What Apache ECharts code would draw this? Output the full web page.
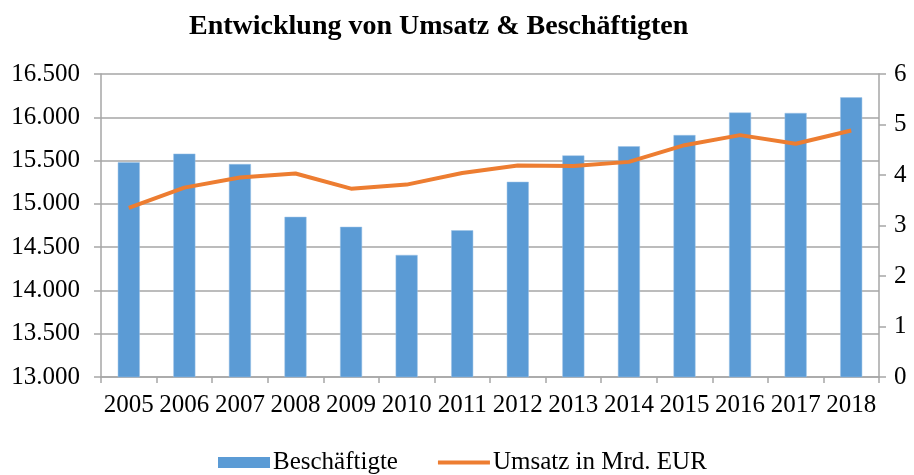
<!DOCTYPE html>
<html>
<head>
<meta charset="utf-8">
<script src="https://cdn.jsdelivr.net/npm/echarts@6/dist/echarts.min.js"></script>
<style>html,body{margin:0;padding:0;background:#fff;}#c{width:914px;height:475px;}</style>
</head>
<body>
<div id="c"></div>
<script>
const years = ['2005','2006','2007','2008','2009','2010','2011','2012','2013','2014','2015','2016','2017','2018'];
const beschaeftigte = [15480, 15580, 15460, 14850, 14735, 14410, 14695, 15255, 15560, 15665, 15795, 16055, 16050, 16230];
const umsatz = [3.35, 3.75, 3.95, 4.03, 3.73, 3.81, 4.04, 4.19, 4.18, 4.26, 4.59, 4.79, 4.62, 4.88];
const leftTicks = {min: 13000, max: 16500, interval: 500};
const rightTicks = {min: 0, max: 6, interval: 1};

const FONT = '"Liberation Serif", "Times New Roman", serif';
const GRAY = '#a6a6a6';
function de(v){ return String(v).replace(/\B(?=(\d{3})+(?!\d))/g, '.'); }

const chart = echarts.init(document.getElementById('c'), null, {renderer: 'canvas'});
chart.setOption({
  animation: false,
  title: {
    text: 'Entwicklung von Umsatz & Beschäftigten',
    left: 184, top: 8,
    textStyle: {fontFamily: FONT, fontWeight: 'bold', fontSize: 28, color: '#000'}
  },
  legend: {
    left: 213, top: 445,
    itemWidth: 52, itemHeight: 11, itemGap: 38,
    textStyle: {fontFamily: FONT, fontSize: 25, color: '#000', padding: [0,0,0,-2]},
    data: [
      {name: 'Beschäftigte', icon: 'rect', itemStyle: {borderWidth: 0}},
      {name: 'Umsatz in Mrd. EUR', itemStyle: {opacity: 0}, lineStyle: {width: 4, color: '#ED7D31', opacity: 1}}
    ]
  },
  grid: {left: 101, right: 35, top: 74, bottom: 98, containLabel: false},
  xAxis: {
    type: 'category', data: years, boundaryGap: true,
    axisLine: {lineStyle: {color: GRAY, width: 1.5}},
    axisTick: {show: true, length: 6, lineStyle: {color: GRAY, width: 1.5}},
    axisLabel: {fontFamily: FONT, fontSize: 25, color: '#000', margin: 16, interval: 0}
  },
  yAxis: [
    {
      type: 'value', min: leftTicks.min, max: leftTicks.max, interval: leftTicks.interval,
      axisLine: {show: true, lineStyle: {color: GRAY, width: 1.5}},
      axisTick: {show: true, length: 7, lineStyle: {color: GRAY, width: 1.5}},
      splitLine: {show: true, lineStyle: {color: GRAY, width: 1.5}},
      axisLabel: {fontFamily: FONT, fontSize: 25, color: '#000', margin: 21, formatter: de}
    },
    {
      type: 'value', min: rightTicks.min, max: rightTicks.max, interval: rightTicks.interval,
      position: 'right',
      axisLine: {show: true, lineStyle: {color: GRAY, width: 1.5}},
      axisTick: {show: true, length: 7, lineStyle: {color: GRAY, width: 1.5}},
      splitLine: {show: false},
      axisLabel: {fontFamily: FONT, fontSize: 25, color: '#000', margin: 15}
    }
  ],
  series: [
    {
      name: 'Beschäftigte', type: 'bar', yAxisIndex: 0, data: beschaeftigte,
      barWidth: 22,
      itemStyle: {color: '#5B9BD5', borderColor: '#9dc3e6', borderWidth: 0.5}
    },
    {
      name: 'Umsatz in Mrd. EUR', type: 'line', yAxisIndex: 1, data: umsatz,
      symbol: 'none', smooth: false,
      lineStyle: {color: '#ED7D31', width: 4},
      itemStyle: {color: '#ED7D31'}
    }
  ]
});
</script>
</body>
</html>
